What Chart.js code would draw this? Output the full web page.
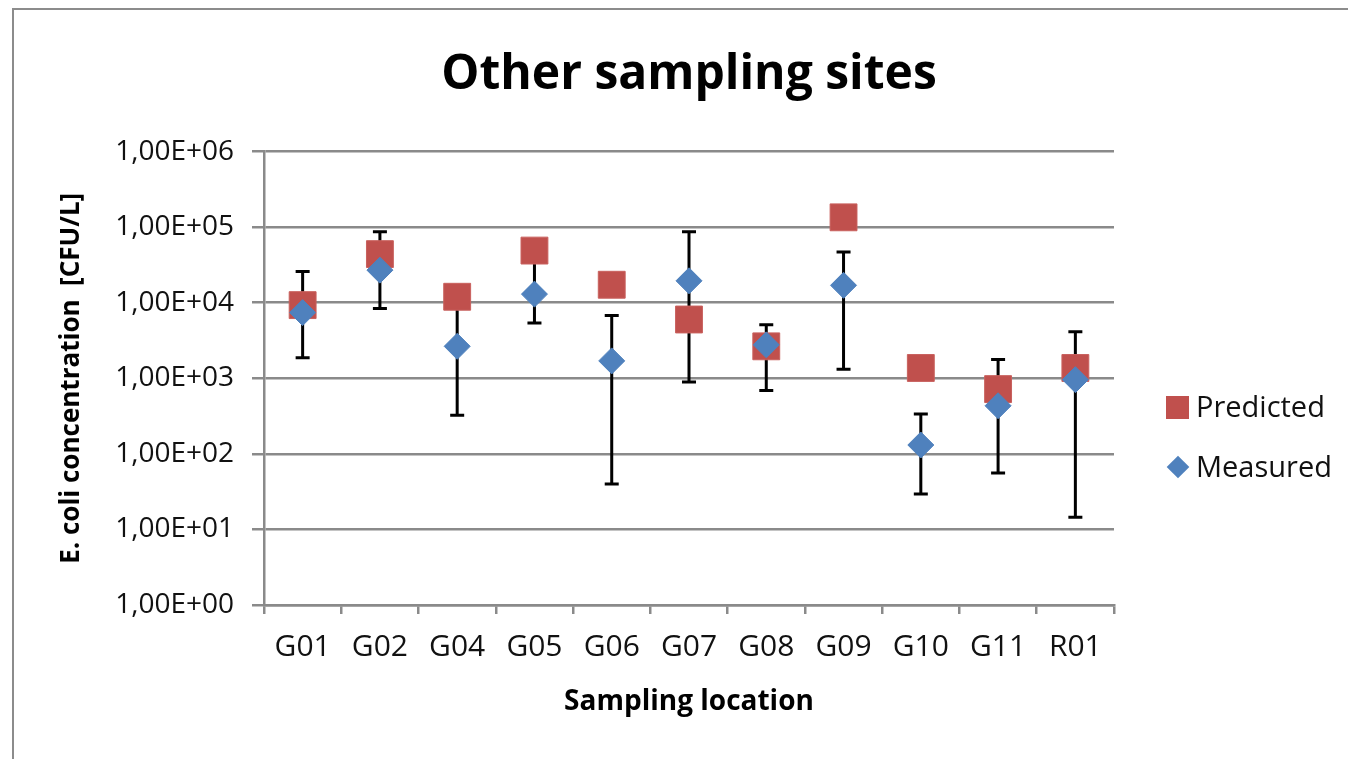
<!DOCTYPE html>
<html>
<head>
<meta charset="utf-8">
<title>Other sampling sites</title>
<script src="https://cdn.jsdelivr.net/npm/chart.js@4"></script>
<style>
  html, body { margin: 0; padding: 0; background: #fff; overflow: hidden; width: 1348px; height: 759px; }
  #frame { position: absolute; left: 12px; top: 8px; width: 2000px; height: 2000px;
           border-left: 2px solid #8c8c8c; border-top: 2px solid #8c8c8c; }
  #chart { position: absolute; left: 14px; top: 10px; }
  .leg { position: absolute; left: 1196px; font: 29px "Open Sans", sans-serif; color: #111; line-height: 29px; }
  .sq { position: absolute; left: 1166px; top: 396px; width: 23px; height: 23px; background: #C0504D; }
  .dm { position: absolute; left: 1170px; top: 459px; width: 16px; height: 16px; background: #4F81BD; transform: rotate(45deg); }
</style>
</head>
<body>
<div id="frame"></div>
<canvas id="chart" width="1350" height="749"></canvas>
<div class="sq"></div><div class="leg" style="top:391px">Predicted</div>
<div class="dm"></div><div class="leg" style="top:451px">Measured</div>
<script>
// categories and values (CFU/L)
const sites = ["G01", "G02", "G04", "G05", "G06", "G07", "G08", "G09", "G10", "G11", "R01"];
const predicted = [9300, 44000, 12000, 49000, 17300, 6000, 2650, 135000, 1370, 720, 1370];
const measured = [7400, 27000, 2650, 13000, 1700, 19500, 2770, 17000, 131, 433, 960];
const measuredLow = [1870, 8400, 325, 5400, 40, 890, 690, 1320, 29.5, 56, 14.5];
const measuredHigh = [26000, 87000, 11000, 45000, 6800, 87000, 5100, 47000, 338, 1780, 4140];

const yTickValues = [1, 10, 100, 1000, 10000, 100000, 1000000];
const yTickLabels = ["1,00E+00", "1,00E+01", "1,00E+02", "1,00E+03", "1,00E+04", "1,00E+05", "1,00E+06"];

const gridGrey = "#8a8a8a";

// error bars for the measured series, drawn under the markers
const errorBars = {
  id: "errorBars",
  beforeDatasetsDraw(chart) {
    const ctx = chart.ctx;
    const x = chart.scales.x, y = chart.scales.y;
    ctx.save();
    ctx.strokeStyle = "#000";
    ctx.lineWidth = 3;
    sites.forEach((s, i) => {
      const px = x.getPixelForValue(i);
      const top = y.getPixelForValue(measuredHigh[i]);
      const bot = y.getPixelForValue(measuredLow[i]);
      ctx.beginPath();
      ctx.moveTo(px, top); ctx.lineTo(px, bot);
      ctx.moveTo(px - 7, top); ctx.lineTo(px + 7, top);
      ctx.moveTo(px - 7, bot); ctx.lineTo(px + 7, bot);
      ctx.stroke();
    });
    ctx.restore();
  }
};

new Chart(document.getElementById("chart"), {
  type: "line",
  data: {
    labels: sites,
    datasets: [
      {
        label: "Measured",
        data: measured,
        showLine: false,
        pointStyle: "rectRot",
        pointRadius: 13,
        pointHoverRadius: 13,
        backgroundColor: "#4F81BD",
        borderColor: "#4F81BD",
        borderWidth: 1,
        order: 0
      },
      {
        label: "Predicted",
        data: predicted,
        showLine: false,
        pointStyle: "rect",
        pointRadius: 19,
        pointHoverRadius: 19,
        backgroundColor: "#C0504D",
        borderColor: "#C9615E",
        borderWidth: 1,
        order: 1
      }
    ]
  },
  options: {
    responsive: false,
    animation: false,
    devicePixelRatio: 1,
    layout: { padding: { left: 0, right: 250, top: 0, bottom: 0 } },
    plugins: {
      legend: { display: false },
      tooltip: { enabled: false },
      title: {
        display: true,
        fullSize: false,
        text: "Other sampling sites",
        color: "#000",
        font: { family: "Open Sans", size: 48, weight: "bold" },
        padding: { top: 37, bottom: 47 }
      }
    },
    scales: {
      x: {
        offset: true,
        grid: { offset: true, drawOnChartArea: false, drawTicks: true, tickLength: 9, color: gridGrey, lineWidth: 2.5 },
        border: { color: gridGrey, width: 2.5 },
        ticks: { color: "#111", font: { family: "Open Sans", size: 30 }, padding: 15, maxRotation: 0 },
        title: {
          display: true,
          text: "Sampling location",
          color: "#000",
          font: { family: "Open Sans", size: 28, weight: "bold" },
          padding: { top: 0, bottom: 40 }
        },
        afterFit: s => { s.height = 154; }
      },
      y: {
        type: "logarithmic",
        min: 1,
        max: 1000000,
        afterBuildTicks: s => { s.ticks = yTickValues.map(v => ({ value: v })); },
        grid: { color: gridGrey, lineWidth: 2.5, tickLength: 12 },
        border: { color: gridGrey, width: 2.5 },
        ticks: {
          color: "#111",
          font: { family: "Open Sans", size: 28 },
          padding: 18,
          callback: v => yTickLabels[yTickValues.indexOf(v)]
        },
        title: {
          display: true,
          text: "E. coli concentration  [CFU/L]",
          color: "#000",
          font: { family: "Open Sans", size: 26, weight: "bold" },
          padding: { top: 42, bottom: 0 }
        },
        afterFit: s => { s.width = 250; }
      }
    }
  },
  plugins: [errorBars]
});
</script>
</body>
</html>
